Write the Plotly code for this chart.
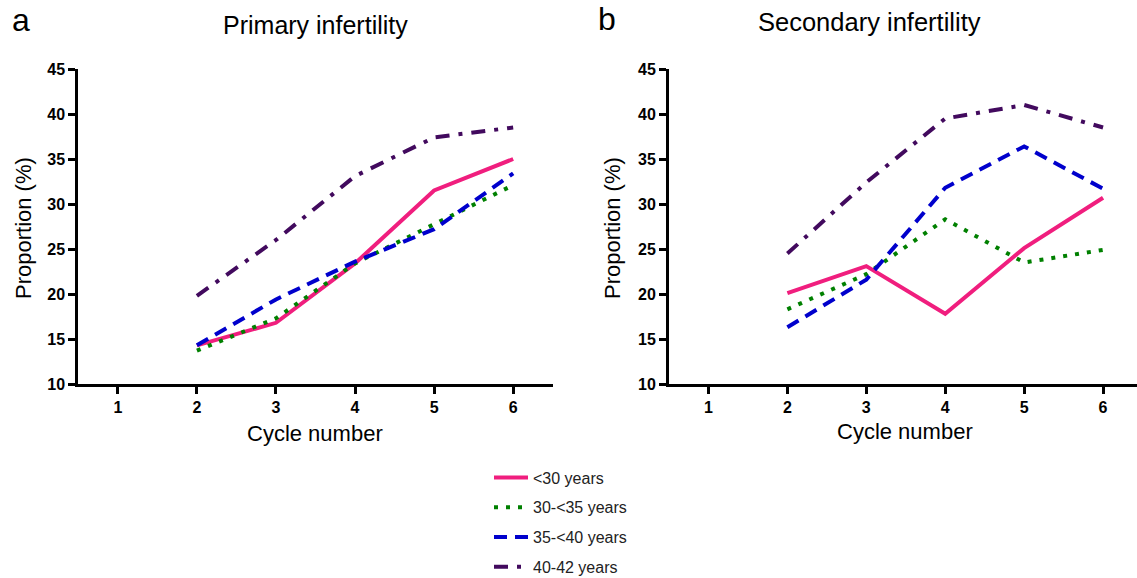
import plotly.graph_objects as go

cycles = [2, 3, 4, 5, 6]
tick_vals = [1, 2, 3, 4, 5, 6]
y_ticks = [10, 15, 20, 25, 30, 35, 40, 45]

series_names = ["<30 years", "30-<35 years", "35-<40 years", "40-42 years"]

primary_lt30 = [14.3, 16.8, 23.4, 31.5, 35.0]
primary_30_35 = [13.7, 17.3, 23.4, 27.7, 32.1]
primary_35_40 = [14.3, 19.4, 23.6, 27.2, 33.4]
primary_40_42 = [19.8, 26.0, 33.1, 37.4, 38.5]

secondary_lt30 = [20.1, 23.1, 17.8, 25.1, 30.7]
secondary_30_35 = [18.3, 22.2, 28.3, 23.5, 24.9]
secondary_35_40 = [16.3, 21.6, 31.8, 36.4, 31.7]
secondary_40_42 = [24.5, 32.4, 39.5, 41.0, 38.5]

colors = ["#F01E7E", "#008000", "#0000CC", "#420A5E"]
dashes = ["solid", "4px,8px", "13px,8px", "14px,9px,4px,9px"]

primary = [primary_lt30, primary_30_35, primary_35_40, primary_40_42]
secondary = [secondary_lt30, secondary_30_35, secondary_35_40, secondary_40_42]

W, H = 1137, 578
FONT = "Liberation Sans, Arial, sans-serif"


def px(X):
    return X / W


def py(Y):
    return 1 - Y / H


fig = go.Figure()
for i, name in enumerate(series_names):
    fig.add_trace(go.Scatter(
        x=cycles, y=primary[i], mode="lines", name=name,
        line=dict(color=colors[i], width=4, dash=dashes[i]),
        legendgroup=name, xaxis="x", yaxis="y", showlegend=True))
for i, name in enumerate(series_names):
    fig.add_trace(go.Scatter(
        x=cycles, y=secondary[i], mode="lines", name=name,
        line=dict(color=colors[i], width=4, dash=dashes[i]),
        legendgroup=name, xaxis="x2", yaxis="y2", showlegend=False))

axis_common = dict(
    showline=True, linecolor="black", linewidth=3,
    ticks="outside", tickcolor="black", tickwidth=3, ticklen=7,
    showgrid=False, zeroline=False,
    tickfont=dict(family=FONT, size=16, color="black", weight="bold"),
)

fig.update_layout(
    width=W, height=H,
    margin=dict(l=0, r=0, t=0, b=0, autoexpand=False),
    paper_bgcolor="white", plot_bgcolor="white",
    font=dict(family=FONT, color="black"),
    xaxis=dict(domain=[px(78.3), px(552.7)], range=[0.5, 6.5], tickvals=tick_vals,
               anchor="y", **axis_common),
    yaxis=dict(domain=[py(384), py(69)], range=[10, 45], tickvals=y_ticks,
               anchor="x", **axis_common),
    xaxis2=dict(domain=[px(669), 1.0], range=[0.5, 6.43], tickvals=tick_vals,
                anchor="y2", **axis_common),
    yaxis2=dict(domain=[py(384), py(69)], range=[10, 45], tickvals=y_ticks,
                anchor="x2", **axis_common),
    legend=dict(x=px(489), y=py(460.5), xanchor="left", yanchor="top",
                font=dict(family=FONT, size=16, color="#222"),
                tracegroupgap=6, itemwidth=34, bgcolor="rgba(0,0,0,0)"),
    showlegend=True,
)


def ann(text, X, Y, size, angle=0):
    fig.add_annotation(text=text, x=px(X), y=py(Y), xref="paper", yref="paper",
                       showarrow=False, xanchor="center", yanchor="middle",
                       textangle=angle, font=dict(family=FONT, size=size, color="black"))


ann("a", 21, 20, 32)
ann("b", 607, 19, 32)
ann("Primary infertility", 315, 25, 25)
ann("Secondary infertility", 869, 22, 25.5)
ann("Proportion (%)", 23, 228, 22, -90)
ann("Proportion (%)", 612, 228, 22, -90)
ann("Cycle number", 315, 433, 22)
ann("Cycle number", 905, 431, 22)

# remove the browser's default 8px body margin so the figure fills the window
fig.write_html("out.html", config={"displayModeBar": False},
               post_script="document.body.style.margin='0px';")
